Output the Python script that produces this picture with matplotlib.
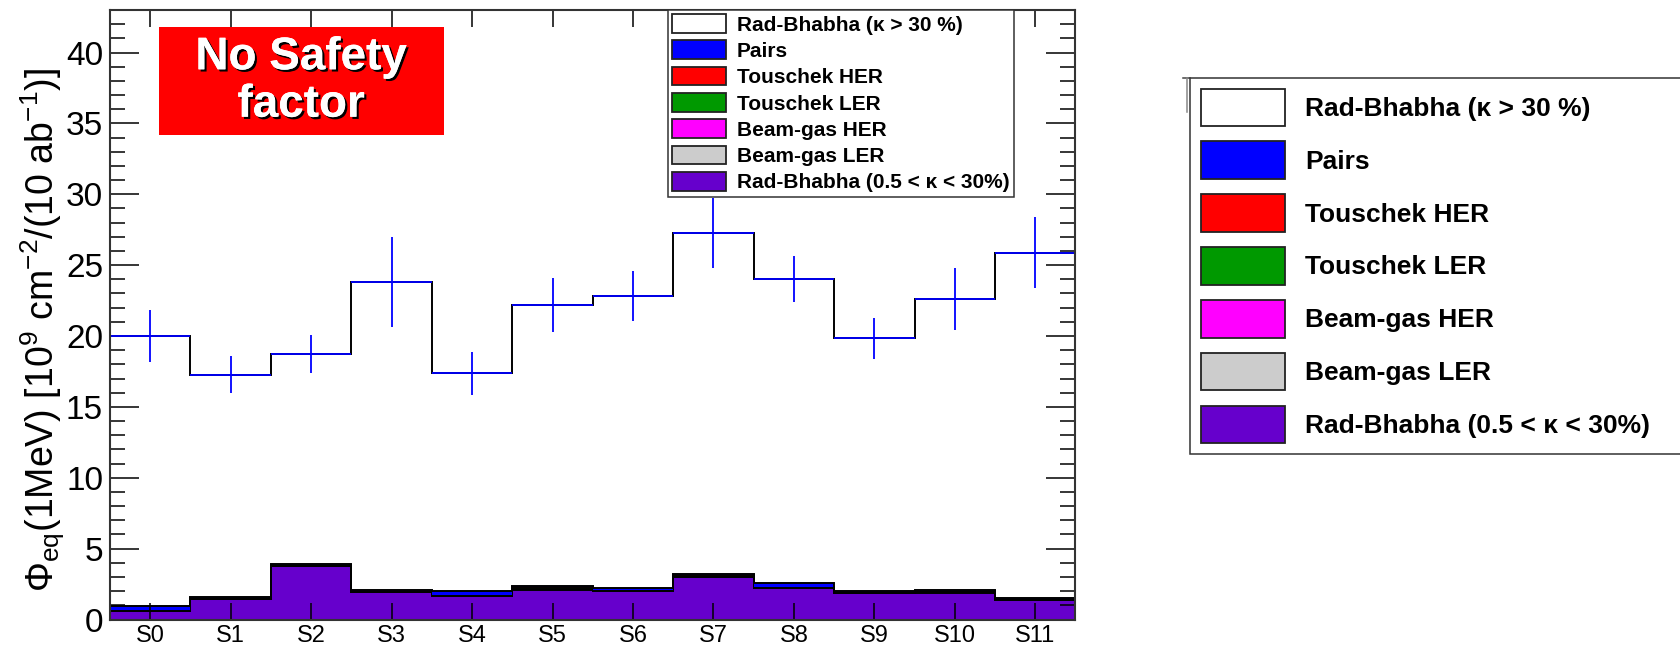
import matplotlib
matplotlib.use("Agg")
import matplotlib.pyplot as plt
import matplotlib.patheffects as pe
from matplotlib.patches import Patch, Rectangle
from matplotlib.lines import Line2D
from matplotlib import font_manager
import numpy as np

# sensor labels (one bin per sensor)
sensors = ["S0", "S1", "S2", "S3", "S4", "S5", "S6", "S7", "S8", "S9", "S10", "S11"]

# stacked background components [10^9 cm^-2 / 10 ab^-1], bottom to top
rb_low = [0.58, 1.45, 3.78, 1.92, 1.65, 2.08, 2.00, 2.98, 2.20, 1.88, 1.90, 1.35]
bg_ler = [0.02, 0.02, 0.02, 0.02, 0.02, 0.05, 0.02, 0.03, 0.02, 0.01, 0.03, 0.02]
bg_her = [0.02, 0.02, 0.01, 0.02, 0.02, 0.05, 0.02, 0.03, 0.02, 0.01, 0.03, 0.02]
tou_ler = [0.03, 0.03, 0.02, 0.03, 0.02, 0.06, 0.03, 0.04, 0.03, 0.02, 0.04, 0.03]
tou_her = [0.03, 0.03, 0.02, 0.03, 0.02, 0.06, 0.03, 0.04, 0.03, 0.02, 0.04, 0.03]
pairs = [0.28, 0.07, 0.05, 0.05, 0.25, 0.08, 0.14, 0.06, 0.28, 0.04, 0.06, 0.07]

# total (top of stack, includes Rad-Bhabha kappa > 30%) and its error
total = [20.0, 17.27, 18.75, 23.82, 17.36, 22.2, 22.83, 27.28, 24.03, 19.83, 22.62, 25.87]
total_err = [1.8, 1.3, 1.35, 3.15, 1.5, 1.9, 1.77, 2.47, 1.6, 1.45, 2.2, 2.5]

layers = [
    ("Rad-Bhabha (0.5 < κ < 30%)", rb_low, "#6600cc"),
    ("Beam-gas LER", bg_ler, "#cccccc"),
    ("Beam-gas HER", bg_her, "#ff00ff"),
    ("Touschek LER", tou_ler, "#009900"),
    ("Touschek HER", tou_her, "#ff0000"),
    ("Pairs", pairs, "#0000ff"),
]
legend_order = ["Rad-Bhabha (κ > 30 %)", "Pairs", "Touschek HER", "Touschek LER",
                "Beam-gas HER", "Beam-gas LER", "Rad-Bhabha (0.5 < κ < 30%)"]

names = {f.name for f in font_manager.fontManager.ttflist}
narrow = "Liberation Sans Narrow" if "Liberation Sans Narrow" in names else "Liberation Sans"

plt.rcParams["font.family"] = ["Liberation Sans", "DejaVu Sans"]
plt.rcParams["mathtext.default"] = "regular"

fig = plt.figure(figsize=(16.81, 6.48), dpi=100)
ax = fig.add_axes([110 / 1681, 1 - 619.5 / 648, 965.5 / 1681, 609.5 / 648])

x = np.arange(len(sensors))
edges = np.arange(len(sensors) + 1) - 0.5

# stacked histogram
bottom = np.zeros(len(sensors))
colors = {"Rad-Bhabha (κ > 30 %)": "white"}
for name, vals, col in layers:
    top = bottom + np.array(vals)
    ax.stairs(top, edges, baseline=bottom, fill=True, color=col, lw=0)
    ax.stairs(top, edges, baseline=None, color="black", lw=1.4)
    colors[name] = col
    bottom = top
ax.stairs(total, edges, baseline=None, color="black", lw=1.4)
ax.errorbar(x, total, yerr=total_err, xerr=0.5, fmt="none", ecolor="#0000ff",
            elinewidth=1.3, capsize=0)

ax.set_xlim(-0.5, 11.5)
ax.set_ylim(0, 43)
ax.set_xticks(x)
ax.set_xticklabels(sensors, fontsize=17)
ax.set_yticks(np.arange(0, 41, 5))
ax.set_yticks(np.arange(0, 44, 1), minor=True)
ax.tick_params(axis="y", which="major", direction="in", length=21, width=1.1,
               labelsize=24, right=True, pad=5)
ax.tick_params(axis="y", which="minor", direction="in", length=10.5, width=1.1, right=True)
ax.tick_params(axis="x", which="major", direction="in", length=12, width=1.1,
               top=True, pad=4)
ax.tick_params(axis="x", which="minor", bottom=False, top=False)
for s in ax.spines.values():
    s.set_linewidth(1.5)
    s.set_color("#333333")

ax.set_ylabel("Φ$_{eq}$(1MeV) [10$^{9}$ cm$^{-2}$/(10 ab$^{-1}$)]", fontsize=27)
ax.yaxis.set_label_coords(-0.045, 0.475)

# "No Safety factor" box
ax.add_patch(Rectangle((0.0504, 0.795), 0.2952, 0.1772, transform=ax.transAxes,
                       facecolor="#ff0000", edgecolor="none", zorder=5))
ax.text(0.198, 0.8835, "No Safety\nfactor", transform=ax.transAxes, ha="center",
        va="center", color="white", fontsize=33, fontweight="bold", family=narrow,
        linespacing=1.1, zorder=6,
        path_effects=[pe.withSimplePatchShadow(offset=(1.6, -1.6), shadow_rgbFace="black",
                                               alpha=1), pe.Normal()])

handles = [Patch(facecolor=colors[n], edgecolor="#222222", linewidth=1.3) for n in legend_order]

leg = ax.legend(handles, legend_order, loc="upper left", bbox_to_anchor=(558 / 965.5, 1.0),
                borderaxespad=0, prop={"family": narrow, "weight": "bold", "size": 15},
                handlelength=2.6, handleheight=1.0, labelspacing=0.28, borderpad=0.2,
                handletextpad=0.5, fancybox=False, framealpha=1, edgecolor="#333333")
leg.get_frame().set_linewidth(1.1)

# second copy of the legend, pasted beside the plot, frame running off the right edge
leg2 = fig.legend(handles, legend_order, loc="upper left", mode="expand",
                  bbox_to_anchor=(1190 / 1681, 0, 500 / 1681, 1 - 78 / 648), borderaxespad=0,
                  prop={"family": narrow, "weight": "bold", "size": 19},
                  handlelength=3.2, handleheight=1.8, labelspacing=0.59, borderpad=0.4,
                  handletextpad=0.75, fancybox=False, framealpha=1, edgecolor="#333333")
leg2.get_frame().set_linewidth(1.1)
fig.add_artist(Line2D([1183 / 1681, 1190 / 1681], [1 - 78 / 648] * 2, color="#444444", lw=1.1))
fig.add_artist(Line2D([1187.5 / 1681] * 2, [1 - 78 / 648, 1 - 112 / 648], color="#888888", lw=1.1))

fig.savefig("out.png", dpi=100)
